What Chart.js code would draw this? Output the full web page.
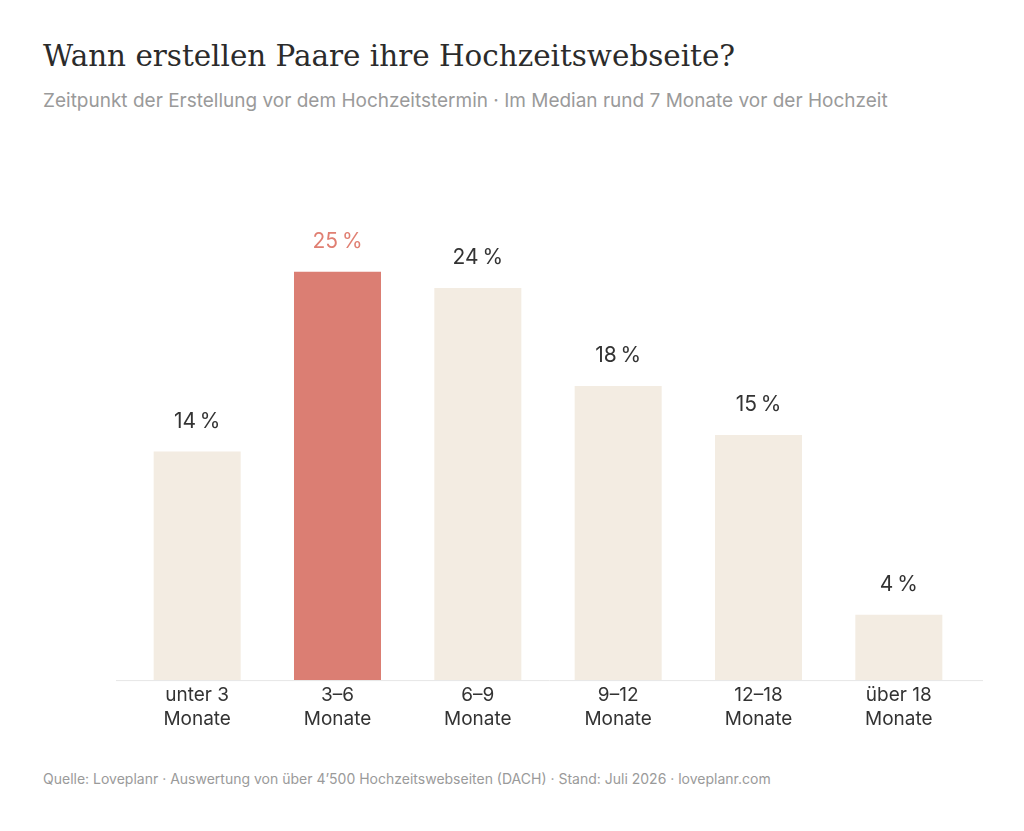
<!DOCTYPE html>
<html>
<head>
<meta charset="utf-8">
<script src="https://cdn.jsdelivr.net/npm/chart.js@4/dist/chart.umd.min.js"></script>
<style>
  body { margin: 0; background: #fff; width: 1024px; height: 831px; position: relative; overflow: hidden; }
  #title { position: absolute; left: 43px; top: 39px; font-family: 'DejaVu Serif', serif; font-size: 29.4px; color: #2b2b2b; white-space: nowrap; }
  #subtitle { position: absolute; left: 43px; top: 89px; font-family: Inter, sans-serif; font-size: 19px; color: #9a9a9a; white-space: nowrap; }
  #source { position: absolute; left: 43px; top: 770px; font-family: Inter, sans-serif; font-size: 14px; color: #9a9a9a; white-space: nowrap; }
  #wrap { position: absolute; left: 0; top: 130px; width: 1024px; height: 620px; }
</style>
</head>
<body>
<div id="title">Wann erstellen Paare ihre Hochzeitswebseite?</div>
<div id="subtitle">Zeitpunkt der Erstellung vor dem Hochzeitstermin · Im Median rund 7 Monate vor der Hochzeit</div>
<div id="source">Quelle: Loveplanr · Auswertung von über 4’500 Hochzeitswebseiten (DACH) · Stand: Juli 2026 · loveplanr.com</div>
<div id="wrap"><canvas id="chart"></canvas></div>
<script>
const categories = [['unter 3', 'Monate'], ['3–6', 'Monate'], ['6–9', 'Monate'], ['9–12', 'Monate'], ['12–18', 'Monate'], ['über 18', 'Monate']];
const shares = [14, 25, 24, 18, 15, 4];
const highlightIndex = 1;

const barColors = shares.map((v, i) => i === highlightIndex ? '#db7e73' : '#f3ece2');
const labelColors = shares.map((v, i) => i === highlightIndex ? '#e07f72' : '#333333');

// value labels above bars and the baseline
const extras = {
    id: 'extras',
    afterDatasetsDraw(chart) {
        const ctx = chart.ctx;
        const area = chart.chartArea;
        const yScale = chart.scales.y;
        ctx.save();
        ctx.strokeStyle = '#e6e6e6';
        ctx.lineWidth = 1;
        ctx.beginPath();
        ctx.moveTo(area.left - 11, yScale.getPixelForValue(0) + 0.5);
        ctx.lineTo(area.right + 14, yScale.getPixelForValue(0) + 0.5);
        ctx.stroke();
        ctx.font = '21px Inter, sans-serif';
        ctx.textAlign = 'center';
        ctx.textBaseline = 'middle';
        chart.getDatasetMeta(0).data.forEach((bar, i) => {
            ctx.fillStyle = labelColors[i];
            ctx.fillText(shares[i] + '\u2009%', bar.x, bar.y - 30);
        });
        ctx.restore();
    }
};

new Chart(document.getElementById('chart').getContext('2d'), {
    type: 'bar',
    data: {
        labels: categories,
        datasets: [{
            data: shares,
            backgroundColor: barColors,
            borderWidth: 0,
            barPercentage: 0.62,
            categoryPercentage: 1
        }]
    },
    options: {
        responsive: true,
        maintainAspectRatio: false,
        animation: false,
        layout: { padding: { left: 127, right: 55, top: 60, bottom: 24 } },
        plugins: { legend: { display: false }, tooltip: { enabled: false } },
        scales: {
            x: {
                grid: { display: false },
                border: { display: false },
                ticks: { color: '#333333', font: { family: 'Inter, sans-serif', size: 19, lineHeight: 1.26 }, padding: -5, maxRotation: 0 }
            },
            y: {
                display: false,
                min: 0,
                max: 30
            }
        }
    },
    plugins: [extras]
});
</script>
</body>
</html>
